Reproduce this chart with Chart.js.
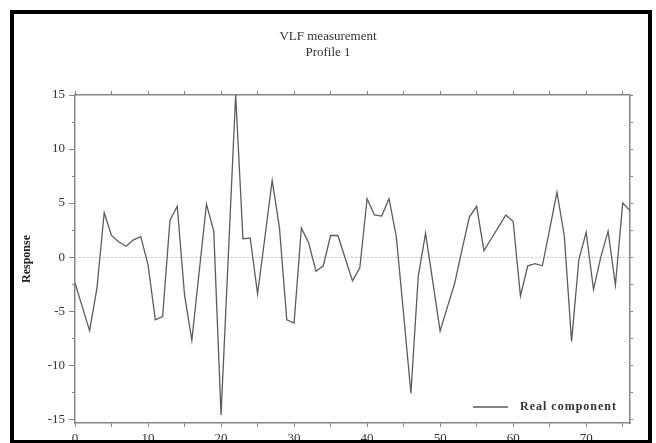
<!DOCTYPE html>
<html>
<head>
<meta charset="utf-8">
<script src="https://cdn.jsdelivr.net/npm/chart.js@4/dist/chart.umd.min.js"></script>
<style>
  html, body { margin: 0; padding: 0; background: #fff; }
  #wrap { width: 656px; height: 443px; position: relative; }
</style>
</head>
<body>
<div id="wrap"><canvas id="vlf" width="656" height="443"></canvas></div>
<script>
// Profile titles and series name
const titleLines = ['VLF measurement', 'Profile 1'];
const seriesLabel = 'Real component';
const axisLabel = 'Response';

// Real-component response at each station along the profile
const response = [
  -2.4, -4.6, -6.8, -2.9, 4.1, 2.0, 1.4, 1.0, 1.6, 1.9,
  -0.7, -5.8, -5.5, 3.4, 4.7, -3.5, -7.7, -1.4, 4.9, 2.4,
  -14.6, 0.2, 15.0, 1.7, 1.75, -3.4, 1.8, 7.1, 2.7, -5.8,
  -6.1, 2.7, 1.3, -1.3, -0.8, 2.0, 2.0, -0.1, -2.2, -1.0,
  5.4, 3.9, 3.8, 5.4, 1.9, -5.3, -12.6, -1.8, 2.2, -2.3,
  -6.85, -4.6, -2.4, 0.7, 3.7, 4.7, 0.6, 1.7, 2.8, 3.9,
  3.3, -3.6, -0.8, -0.6, -0.8, 2.6, 6.0, 2.0, -7.8, -0.2,
  2.3, -3.0, 0.0, 2.4, -2.6, 5.0, 4.3
];
// Station numbers (0, 1, 2, ...)
const stations = response.map((_, i) => i);

// Tick positions and labels
const xTickValues = [0, 5, 10, 15, 20, 25, 30, 35, 40, 45, 50, 55, 60, 65, 70, 75];
const xTickLabels = [0, 10, 20, 30, 40, 50, 60, 70];
const yMajorTicks = [-15, -10, -5, 0, 5, 10, 15];
const yMinorTicks = [-12.5, -7.5, -2.5, 2.5, 7.5, 12.5];
const yAllTicks = [-15, -12.5, -10, -7.5, -5, -2.5, 0, 2.5, 5, 7.5, 10, 12.5, 15];

const xRange = [0, 76];
const yRange = [-15.35, 15];

const serif = '"Liberation Serif", "Times New Roman", serif';
const axisGray = '#858585';
const textGray = '#333';

const points = stations.map((s, i) => ({ x: s, y: response[i] }));

const setTicks = (values) => (scale) => {
  scale.ticks = values.map(v => ({ value: v }));
};

// Dotted reference line at zero response
const zeroLine = {
  id: 'zeroLine',
  beforeDatasetsDraw(chart) {
    const { ctx, chartArea: ca, scales: { y } } = chart;
    const py = Math.round(y.getPixelForValue(0)) + 0.5;
    ctx.save();
    ctx.strokeStyle = '#c4c4c4';
    ctx.lineWidth = 1;
    ctx.setLineDash([2, 2]);
    ctx.beginPath();
    ctx.moveTo(ca.left, py);
    ctx.lineTo(ca.right, py);
    ctx.stroke();
    ctx.restore();
  }
};

// Short minor ticks on the left response axis
const minorTicks = {
  id: 'minorTicks',
  afterDraw(chart) {
    const { ctx, scales: { y } } = chart;
    ctx.save();
    ctx.strokeStyle = axisGray;
    ctx.lineWidth = 1;
    yMinorTicks.forEach(v => {
      const py = Math.round(y.getPixelForValue(v)) + 0.5;
      ctx.beginPath();
      ctx.moveTo(y.right - 3, py);
      ctx.lineTo(y.right, py);
      ctx.stroke();
    });
    ctx.restore();
  }
};

// Legend sample drawn inside the plot, bottom right
const innerLegend = {
  id: 'innerLegend',
  afterDraw(chart) {
    const { ctx, chartArea: ca } = chart;
    const ds = chart.data.datasets[0];
    const ly = ca.bottom - 16;
    ctx.save();
    ctx.strokeStyle = ds.borderColor;
    ctx.lineWidth = ds.borderWidth;
    ctx.beginPath();
    ctx.moveTo(ca.right - 157, ly);
    ctx.lineTo(ca.right - 122, ly);
    ctx.stroke();
    ctx.fillStyle = textGray;
    ctx.font = 'bold 12px ' + serif;
    ctx.letterSpacing = '1px';
    ctx.textAlign = 'left';
    ctx.textBaseline = 'middle';
    ctx.fillText(ds.label, ca.right - 110, ly);
    ctx.restore();
  }
};

// Black frame around the figure
const frame = {
  id: 'frame',
  afterDraw(chart) {
    const { ctx } = chart;
    ctx.save();
    ctx.fillStyle = '#000';
    ctx.fillRect(10, 10, 4, 433);
    ctx.fillRect(10, 10, 642, 4);
    ctx.fillRect(648, 10, 4, 433);
    ctx.fillRect(10, 440, 642, 3);
    ctx.restore();
  }
};

new Chart(document.getElementById('vlf'), {
  type: 'line',
  data: {
    datasets: [{
      label: seriesLabel,
      data: points,
      borderColor: '#5c5c5c',
      borderWidth: 1.3,
      pointRadius: 0,
      tension: 0,
      fill: false
    }]
  },
  options: {
    responsive: false,
    devicePixelRatio: 1,
    animation: false,
    layout: { padding: { top: 22, left: 0, right: 0, bottom: 0 } },
    plugins: {
      legend: { display: false },
      tooltip: { enabled: false },
      title: {
        display: true,
        text: titleLines,
        color: textGray,
        font: { family: serif, size: 13, weight: 'normal', lineHeight: '16px' },
        padding: { top: 7, bottom: 0 }
      }
    },
    scales: {
      x: {
        type: 'linear',
        position: 'bottom',
        min: xRange[0],
        max: xRange[1],
        afterBuildTicks: setTicks(xTickValues),
        afterFit: s => { s.height = 20; },
        ticks: {
          autoSkip: false,
          maxRotation: 0,
          padding: 4,
          color: textGray,
          font: { family: serif, size: 13 },
          callback: v => xTickLabels.includes(v) ? String(v) : ''
        },
        grid: { drawOnChartArea: false, drawTicks: true, tickLength: 4, tickColor: axisGray, tickWidth: 1 },
        border: { display: true, color: axisGray, width: 1.5 }
      },
      xTop: {
        type: 'linear',
        position: 'top',
        min: xRange[0],
        max: xRange[1],
        afterBuildTicks: setTicks(xTickValues),
        afterFit: s => { s.height = 34; },
        ticks: { display: true, autoSkip: false, maxRotation: 0, callback: () => '' },
        grid: { drawOnChartArea: false, drawTicks: true, tickLength: 4, tickColor: axisGray, tickWidth: 1 },
        border: { display: true, color: axisGray, width: 1.5 }
      },
      y: {
        type: 'linear',
        position: 'left',
        min: yRange[0],
        max: yRange[1],
        afterBuildTicks: setTicks(yMajorTicks),
        afterFit: s => { s.width = 75; },
        ticks: {
          padding: 4,
          color: textGray,
          font: { family: serif, size: 13 },
          callback: v => String(v)
        },
        title: {
          display: true,
          text: axisLabel,
          color: '#222',
          font: { family: serif, size: 12, weight: 'bold' },
          padding: { top: 20, bottom: 0 }
        },
        grid: { drawOnChartArea: false, drawTicks: true, tickLength: 6, tickColor: axisGray, tickWidth: 1 },
        border: { display: true, color: axisGray, width: 1.5 }
      },
      yRight: {
        type: 'linear',
        position: 'right',
        min: yRange[0],
        max: yRange[1],
        afterBuildTicks: setTicks(yAllTicks),
        afterFit: s => { s.width = 26; },
        ticks: { display: true, callback: () => '' },
        grid: { drawOnChartArea: false, drawTicks: true, tickLength: 3, tickColor: axisGray, tickWidth: 1 },
        border: { display: true, color: axisGray, width: 1.5 }
      }
    }
  },
  plugins: [zeroLine, minorTicks, innerLegend, frame]
});
</script>
</body>
</html>
